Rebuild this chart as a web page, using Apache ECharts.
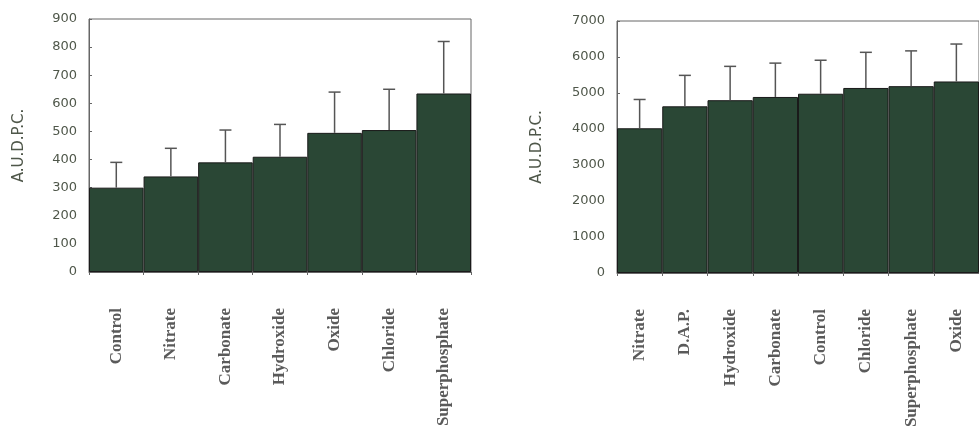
<!DOCTYPE html>
<html>
<head>
<meta charset="utf-8">
<script src="https://cdn.jsdelivr.net/npm/echarts@6/dist/echarts.min.js"></script>
<style>
    html, body { margin: 0; padding: 0; background: #fff; }
    #chart { width: 979px; height: 432px; }
</style>
</head>
<body>
<div id="chart"></div>
<script>
// 左图数据
var leftCategories = ['Control', 'Nitrate', 'Carbonate', 'Hydroxide', 'Oxide', 'Chloride', 'Superphosphate'];
var leftMeans = [300, 340, 390, 410, 495, 505, 635];
var leftErrors = [90, 100, 115, 115, 145, 145, 185];
var leftTicks = [0, 100, 200, 300, 400, 500, 600, 700, 800, 900];

// 右图数据
var rightCategories = ['Nitrate', 'D.A.P.', 'Hydroxide', 'Carbonate', 'Control', 'Chloride', 'Superphosphate', 'Oxide'];
var rightMeans = [4020, 4630, 4800, 4890, 4980, 5140, 5190, 5320];
var rightErrors = [800, 860, 940, 940, 930, 990, 980, 1040];
var rightTicks = [0, 1000, 2000, 3000, 4000, 5000, 6000, 7000];

var barColor = '#2a4735';
var axisColor = '#666';
var labelColor = '#4f574a';

function errorData(means, errors) {
    var out = [];
    for (var i = 0; i < means.length; i++) {
        out.push([i, means[i], means[i] + errors[i]]);
    }
    return out;
}

// 误差线：竖线加顶端短横
function renderError(params, api) {
    var base = api.coord([api.value(0), api.value(1)]);
    var top = api.coord([api.value(0), api.value(2)]);
    var half = 6;
    var style = { stroke: '#555', lineWidth: 1.5 };
    return {
        type: 'group',
        children: [
            { type: 'line', shape: { x1: base[0], y1: base[1], x2: top[0], y2: top[1] }, style: style },
            { type: 'line', shape: { x1: top[0] - half, y1: top[1], x2: top[0] + half, y2: top[1] }, style: style }
        ]
    };
}

function xAxisOf(gridIndex, cats) {
    return {
        type: 'category',
        gridIndex: gridIndex,
        data: cats,
        axisLine: { lineStyle: { color: axisColor } },
        axisTick: { show: true, length: 3, lineStyle: { color: axisColor } },
        axisLabel: {
            rotate: 90,
            margin: 36,
            interval: 0,
            fontFamily: 'Liberation Serif',
            fontWeight: 'bold',
            fontSize: 17,
            color: '#5a5a5a'
        }
    };
}

function yAxisOf(gridIndex, ticks, nameGap) {
    return {
        type: 'value',
        gridIndex: gridIndex,
        min: ticks[0],
        max: ticks[ticks.length - 1],
        interval: ticks[1] - ticks[0],
        name: 'A.U.D.P.C.',
        nameLocation: 'middle',
        nameGap: nameGap,
        nameTextStyle: { fontFamily: 'DejaVu Sans', fontSize: 15, color: labelColor },
        splitLine: { show: false },
        axisLine: { show: true, lineStyle: { color: axisColor } },
        axisTick: { show: true, inside: true, length: 3, lineStyle: { color: axisColor } },
        axisLabel: {
            margin: 12,
            fontFamily: 'DejaVu Sans',
            fontSize: 13,
            color: labelColor,
            padding: [0, 0, 8, 0],
            formatter: function (v) { return String(v); }
        }
    };
}

var myChart = echarts.init(document.getElementById('chart'));

var option = {
    animation: false,
    grid: [
        { left: 89, top: 19, width: 382, height: 253, show: true, borderColor: axisColor, borderWidth: 1 },
        { left: 617, top: 21, width: 371, height: 252, show: true, borderColor: axisColor, borderWidth: 1 }
    ],
    xAxis: [xAxisOf(0, leftCategories), xAxisOf(1, rightCategories)],
    yAxis: [yAxisOf(0, leftTicks, 62), yAxisOf(1, rightTicks, 72)],
    series: [
        {
            type: 'bar',
            xAxisIndex: 0,
            yAxisIndex: 0,
            data: leftMeans,
            barCategoryGap: '0%',
            itemStyle: { color: barColor, borderColor: '#1a1a1a', borderWidth: 1 }
        },
        {
            type: 'custom',
            xAxisIndex: 0,
            yAxisIndex: 0,
            data: errorData(leftMeans, leftErrors),
            renderItem: renderError,
            z: 5
        },
        {
            type: 'bar',
            xAxisIndex: 1,
            yAxisIndex: 1,
            data: rightMeans,
            barCategoryGap: '0%',
            itemStyle: { color: barColor, borderColor: '#1a1a1a', borderWidth: 1 }
        },
        {
            type: 'custom',
            xAxisIndex: 1,
            yAxisIndex: 1,
            data: errorData(rightMeans, rightErrors),
            renderItem: renderError,
            z: 5
        }
    ]
};
myChart.setOption(option);
</script>
</body>
</html>
